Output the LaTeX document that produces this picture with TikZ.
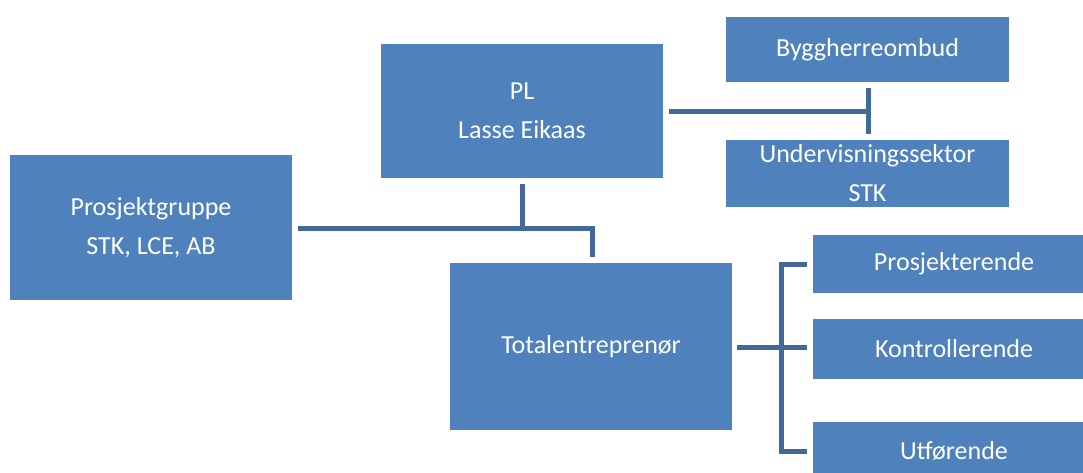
\documentclass[tikz,border=0pt]{standalone}
\usepackage{fontspec}
\setmainfont{Carlito}
\definecolor{boxblue}{HTML}{4F81BD}
\definecolor{linkblue}{HTML}{41699B}
\tikzset{
  orgbox/.style={fill=boxblue, draw=none, text=white, inner sep=0pt, outer sep=0pt,
    align=center, font=\fontsize{26}{39}\selectfont},
  link/.style={draw=linkblue, line width=5pt, line join=miter}
}
\begin{document}
\begin{tikzpicture}[x=1pt, y=-1pt]
\useasboundingbox (0,0) rectangle (1083,473);

% boxes
\node[orgbox, minimum width=282pt, minimum height=134pt] (pl) at (522,111) {PL\\Lasse Eikaas};
\node[orgbox, minimum width=283pt, minimum height=65pt] (bygg) at (867.5,49.5) {Byggherreombud};
\node[orgbox, minimum width=283pt, minimum height=67pt] (underv) at (867.5,173.5) {Undervisningssektor\\STK};
\node[orgbox, minimum width=282pt, minimum height=145pt] (pgruppe) at (151,227.5) {Prosjektgruppe\\STK, LCE, AB};
\node[orgbox, minimum width=282pt, minimum height=167pt] (total) at (591,346.5) {Totalentreprenør};
\node[orgbox, minimum width=282pt, minimum height=58pt] (prosj) at (954,264) {Prosjekterende};
\node[orgbox, minimum width=282pt, minimum height=60pt] (kontr) at (954,349) {Kontrollerende};
\node[orgbox, minimum width=282pt, minimum height=58pt] (utf) at (954,451) {Utførende};

% junction points
\coordinate (tbar) at (868,112);
\coordinate (tbartop) at (868,88);
\coordinate (tbarbot) at (868,134);
\coordinate (midrow) at (522,228);
\coordinate (totcorner) at (592,228);
\coordinate (brack) at (781,347);

% PL to the two client boxes
\draw[link] ([xshift=6pt]pl.east |- tbar) -- (tbar);
\draw[link] (tbartop) -- (tbarbot);

% PL, project group and contractor
\draw[link] ([yshift=-6pt]pl.south -| midrow) -- (midrow);
\draw[link] ([xshift=6pt]pgruppe.east |- midrow) -- (totcorner) -- ([yshift=6pt]total.north -| totcorner);

% contractor to its three roles
\draw[link] ([xshift=5pt]total.east |- brack) -- (brack);
\draw[link] ([xshift=-6pt]prosj.west) -- (prosj.west -| brack) -- (utf.west -| brack) -- ([xshift=-6pt]utf.west);
\draw[link] (brack) -- ([xshift=-6pt]kontr.west |- brack);
\end{tikzpicture}
\end{document}
